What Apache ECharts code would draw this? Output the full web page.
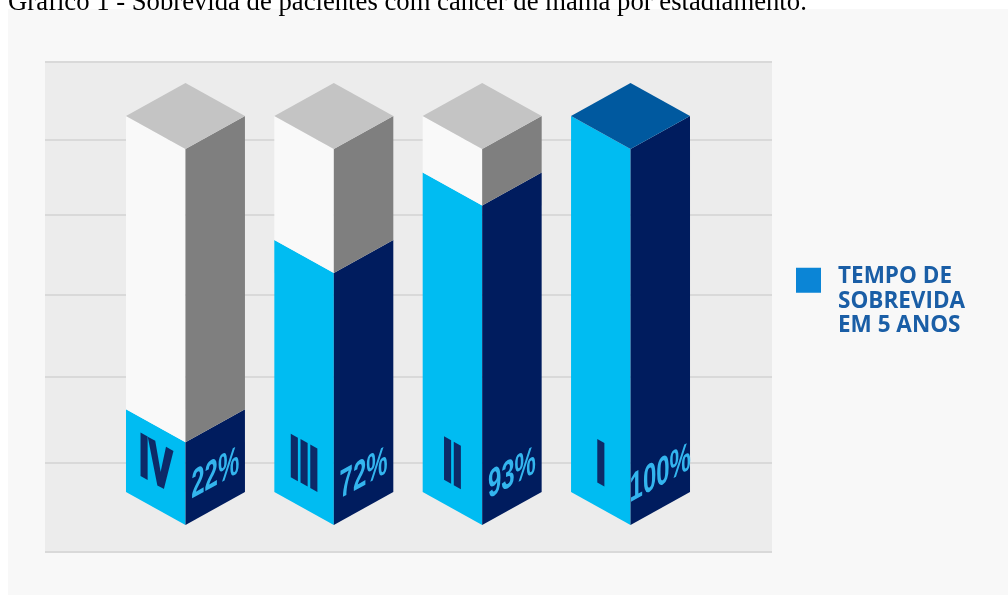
<!DOCTYPE html>
<html><head><meta charset="utf-8">
<style>html,body{margin:0;padding:0;background:#fff}#c{width:1008px;height:595px}</style>
<script src="https://cdn.jsdelivr.net/npm/echarts@6/dist/echarts.min.js"></script>
</head><body><div id="c"></div>
<script>
const titleText = 'Gráfico 1 - Sobrevida de pacientes com câncer de mama por estadiamento.';
const stages = ['IV', 'III', 'II', 'I'];
const survivalLabels = ['22%', '72%', '93%', '100%'];
const drawnHeights = [22, 67, 85, 100];
const gridLineValues = [-7.2, 16.5, 39.4, 61.2, 82.4, 102.4, 123.1];
const legendName = 'TEMPO DE SOBREVIDA EM 5 ANOS';
const legendLines = ['TEMPO DE', 'SOBREVIDA', 'EM 5 ANOS'];

const NARROW = "'Liberation Sans Narrow', 'Liberation Sans', 'DejaVu Sans Condensed', sans-serif";

function poly(points, fill) {
  return { type: 'polygon', shape: { points: points }, style: { fill: fill, stroke: null } };
}

function renderItem(params, api) {
  const i = api.value(0);
  const h = api.value(1);
  const base = api.coord([i, 0]);
  const fill = api.coord([i, h]);
  const full = api.coord([i, 100]);
  const band = api.size([1, 0])[0];
  const w = band * 0.401;
  const d = w * 0.555;
  const cx = base[0], y0 = base[1], yf = fill[1], yt = full[1];
  const ch = [];
  ch.push(poly([[cx - w, y0 - d], [cx, y0], [cx, yf], [cx - w, yf - d]], '#00bcf2'));
  ch.push(poly([[cx, y0], [cx + w, y0 - d], [cx + w, yf - d], [cx, yf]], '#001c5e'));
  if (h < 100) {
    ch.push(poly([[cx - w, yf - d], [cx, yf], [cx, yt], [cx - w, yt - d]], '#f9f9f9'));
    ch.push(poly([[cx, yf], [cx + w, yf - d], [cx + w, yt - d], [cx, yt]], '#7f7f7f'));
  }
  ch.push(poly([[cx - w, yt - d], [cx, yt - 2 * d], [cx + w, yt - d], [cx, yt]], h >= 100 ? '#00599f' : '#c4c4c4'));
  ch.push({
    type: 'text', x: cx - w / 2, y: y0 - w * 0.98, skewY: -0.507, scaleX: 0.6,
    style: { text: stages[i], fontFamily: NARROW, fontWeight: 'bold', fontSize: 58, fill: '#0d2a68', stroke: '#0d2a68', lineWidth: 3.5, lineJoin: 'miter', align: 'center', verticalAlign: 'middle' }
  });
  ch.push({
    type: 'text', x: cx + w / 2, y: y0 - w * 0.85, skewY: 0.507, scaleX: 0.6,
    style: { text: survivalLabels[i], fontFamily: NARROW, fontWeight: 'bold', fontSize: 40, fill: '#33b5ee', align: 'center', verticalAlign: 'middle' }
  });
  return { type: 'group', children: ch };
}

const chart = echarts.init(document.getElementById('c'), null, { renderer: 'canvas' });
chart.setOption({
  animation: false,
  backgroundColor: '#ffffff',
  title: {
    text: titleText, left: 8, top: -11, padding: 0,
    textStyle: { fontFamily: "'Liberation Serif', serif", fontWeight: 'normal', fontSize: 26.7, color: '#000' }
  },
  graphic: [{ type: 'rect', z: -100, silent: true, shape: { x: 8, y: 9, width: 1000, height: 586 }, style: { fill: '#f8f8f8' } }],
  legend: {
    left: 796, top: 238.5, padding: 0, orient: 'vertical', selectedMode: false,
    itemWidth: 25, itemHeight: 25, icon: 'rect',
    data: [{ name: legendName, itemStyle: { color: '#0b85d6' } }],
    formatter: function () {
      return '{s| }\n' + legendLines.map(function (l) { return '{t|' + l + '}'; }).join('\n');
    },
    textStyle: {
      color: '#1a5ea6',
      rich: {
        s: { fontSize: 10, lineHeight: 42 },
        t: { fontFamily: "'Open Sans', sans-serif", fontWeight: 'bold', fontSize: 22.5, lineHeight: 24.5, color: '#1a5ea6', padding: [0, 0, 0, 12] }
      }
    }
  },
  grid: [
    { left: 111.3, right: 303.3, top: 149, bottom: 70, show: false, z: 2 },
    { left: 45, right: 236, top: 62, bottom: 43, show: true, backgroundColor: '#ececec', borderWidth: 0, z: 0 }
  ],
  xAxis: [
    { type: 'category', gridIndex: 0, data: stages, show: false, boundaryGap: true },
    { type: 'value', gridIndex: 1, min: 0, max: 1, show: false }
  ],
  yAxis: [
    { type: 'value', gridIndex: 0, min: 0, max: 100, show: false },
    { type: 'value', gridIndex: 1, min: -7.2, max: 123.1, show: false }
  ],
  series: [
    {
      type: 'line', xAxisIndex: 1, yAxisIndex: 1, data: [], silent: true, z: 1,
      markLine: {
        silent: true, symbol: ['none', 'none'], label: { show: false },
        lineStyle: { color: '#d9d9d9', width: 2, type: 'solid' },
        data: gridLineValues.map(function (v) { return { yAxis: v }; })
      }
    },
    {
      name: legendName, type: 'custom', xAxisIndex: 0, yAxisIndex: 0, z: 5,
      itemStyle: { color: '#0b85d6' },
      renderItem: renderItem,
      data: drawnHeights.map(function (v, i) { return [i, v]; })
    }
  ]
});
</script></body></html>
